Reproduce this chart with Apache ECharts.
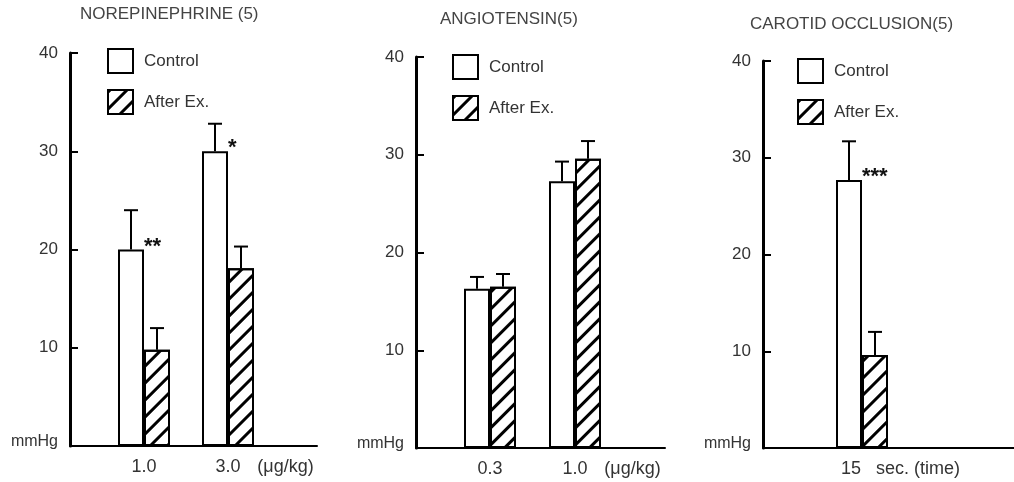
<!DOCTYPE html>
<html>
<head>
<meta charset="utf-8">
<script src="https://cdn.jsdelivr.net/npm/echarts@6/dist/echarts.min.js"></script>
<style>
html,body{margin:0;padding:0;background:#fff;}
#c{width:1014px;height:482px;}
</style>
</head>
<body>
<div id="c"></div>
<script>
// ---- data ----
const titles = ['NOREPINEPHRINE (5)', 'ANGIOTENSIN(5)', 'CAROTID OCCLUSION(5)'];
const seriesNames = ['Control', 'After Ex.'];
const yTicks = [0, 10, 20, 30, 40];
const yUnit = 'mmHg';

const p1Categories = ['1.0', '3.0'];
const p1ControlMean = [20.0, 30.0];
const p1ControlSD = [4.0, 2.8];
const p1AfterMean = [9.8, 18.1];
const p1AfterSD = [2.2, 2.2];
const p1Sig = ['**', '*'];
const p1Unit = '(μg/kg)';

const p2Categories = ['0.3', '1.0'];
const p2ControlMean = [16.3, 27.3];
const p2ControlSD = [1.2, 2.0];
const p2AfterMean = [16.5, 29.6];
const p2AfterSD = [1.3, 1.8];
const p2Sig = ['', ''];
const p2Unit = '(μg/kg)';

const p3Categories = ['15'];
const p3ControlMean = [27.7];
const p3ControlSD = [4.0];
const p3AfterMean = [9.6];
const p3AfterSD = [2.4];
const p3Sig = ['***'];
const p3Unit = 'sec. (time)';

// ---- layout ----
const FONT = 'Liberation Sans';
const panels = [
  {cats:p1Categories, cm:p1ControlMean, cs:p1ControlSD, am:p1AfterMean, as:p1AfterSD, sig:p1Sig, unit:p1Unit,
   frame:{left:70, top:53, width:247, height:393}, bars:{left:102, width:168},
   title:{left:80, top:6}, legend:{left:107, top:48}, unitW:80, padW:80},
  {cats:p2Categories, cm:p2ControlMean, cs:p2ControlSD, am:p2AfterMean, as:p2AfterSD, sig:p2Sig, unit:p2Unit,
   frame:{left:416, top:57, width:249, height:391}, bars:{left:447.5, width:170},
   title:{left:440, top:11}, legend:{left:452, top:54}, unitW:80, padW:80},
  {cats:p3Categories, cm:p3ControlMean, cs:p3ControlSD, am:p3AfterMean, as:p3AfterSD, sig:p3Sig, unit:p3Unit,
   frame:{left:763, top:61, width:251, height:387}, bars:{left:812, width:100},
   title:{left:750, top:16}, legend:{left:797, top:58}, unitW:104, padW:82}
];

const BAR_W = 26;
const hatch = {symbol:'rect', symbolSize:1, color:'#000', dashArrayX:[1,0], dashArrayY:[2.5,8.5], rotation:-Math.PI/4};

function errRender(offset){
  return function(params, api){
    const idx = api.value(0);
    const base = api.coord([idx, api.value(1)]);
    const top = api.coord([idx, api.value(1) + api.value(2)]);
    const x = base[0] + offset;
    return {type:'group', children:[
      {type:'line', shape:{x1:x, y1:base[1], x2:x, y2:top[1]}, style:{stroke:'#000', lineWidth:2}},
      {type:'line', shape:{x1:x-7, y1:top[1], x2:x+7, y2:top[1]}, style:{stroke:'#000', lineWidth:2}}
    ]};
  };
}

const option = {animation:false, backgroundColor:'#fff', title:[], legend:[], grid:[], xAxis:[], yAxis:[], series:[]};

panels.forEach(function(p, i){
  const gf = i*2, gb = i*2+1;
  option.title.push({text:titles[i], left:p.title.left, top:p.title.top, padding:0,
    textStyle:{fontFamily:FONT, fontSize:17, fontWeight:'normal', color:'#444'}});
  option.legend.push({data:seriesNames, orient:'vertical', left:p.legend.left, top:p.legend.top, padding:0,
    itemWidth:25, itemHeight:24, itemGap:15, icon:'rect', selectedMode:false,
    itemStyle:{borderColor:'#000', borderWidth:2},
    textStyle:{fontFamily:FONT, fontSize:17, color:'#333', padding:[0,0,0,6]}});
  option.grid.push({left:p.frame.left, top:p.frame.top, width:p.frame.width, height:p.frame.height});
  option.grid.push({left:p.bars.left, top:p.frame.top, width:p.bars.width, height:p.frame.height});
  // frame axes
  option.xAxis.push({gridIndex:gf, type:'value', min:0, max:1, axisLine:{show:true, lineStyle:{color:'#000', width:2}},
    axisTick:{show:false}, axisLabel:{show:false}, splitLine:{show:false}});
  option.yAxis.push({gridIndex:gf, type:'value', min:yTicks[0], max:yTicks[yTicks.length-1], interval:yTicks[1]-yTicks[0],
    axisLine:{show:true, lineStyle:{color:'#000', width:3}},
    axisTick:{show:true, inside:true, length:8, lineStyle:{color:'#000', width:2}},
    splitLine:{show:false},
    axisLabel:{margin:12, fontFamily:FONT, fontSize:17, color:'#333',
      formatter:function(v){ return v === 0 ? '{m|' + yUnit + '}' : String(v); },
      rich:{m:{fontFamily:FONT, fontSize:16, color:'#333', padding:[0,0,8,0]}}}});
  // bar axes
  const lastIdx = p.cats.length - 1;
  option.xAxis.push({gridIndex:gb, type:'category', data:p.cats, axisLine:{show:false}, axisTick:{show:false},
    axisLabel:{interval:0, hideOverlap:false, margin:12, fontFamily:FONT, fontSize:18, color:'#333',
      formatter:function(v, idx){
        return idx === lastIdx ? '{pad|}{v|' + v + '}{u|  ' + p.unit + '}' : '{v|' + v + '}';
      },
      rich:{
        pad:{width:p.padW},
        v:{fontFamily:FONT, fontSize:18, color:'#333'},
        u:{fontFamily:FONT, fontSize:18, color:'#333', width:p.unitW, align:'left'}
      }}});
  option.yAxis.push({gridIndex:gb, type:'value', min:yTicks[0], max:yTicks[yTicks.length-1], show:false});

  option.series.push({name:seriesNames[0], type:'bar', xAxisIndex:gb, yAxisIndex:gb, barWidth:BAR_W, barGap:'0%',
    itemStyle:{color:'#fff', borderColor:'#000', borderWidth:2},
    data:p.cm.map(function(v, k){
      return {value:v, label:{show:!!p.sig[k], formatter:p.sig[k] || '', position:['100%', -3],
        verticalAlign:'middle', align:'left', fontSize:22, fontWeight:'bold', color:'#111', fontFamily:FONT}};
    })});
  option.series.push({name:seriesNames[1], type:'bar', xAxisIndex:gb, yAxisIndex:gb, barWidth:BAR_W, barGap:'0%',
    itemStyle:{color:'#fff', borderColor:'#000', borderWidth:2, decal:hatch},
    data:p.am});
  option.series.push({type:'custom', xAxisIndex:gb, yAxisIndex:gb, z:5, renderItem:errRender(-BAR_W/2),
    data:p.cm.map(function(v, k){ return [k, v, p.cs[k]]; })});
  option.series.push({type:'custom', xAxisIndex:gb, yAxisIndex:gb, z:5, renderItem:errRender(BAR_W/2),
    data:p.am.map(function(v, k){ return [k, v, p.as[k]]; })});
});

const chart = echarts.init(document.getElementById('c'), null, {renderer:'canvas'});
chart.setOption(option);
</script>
</body>
</html>
